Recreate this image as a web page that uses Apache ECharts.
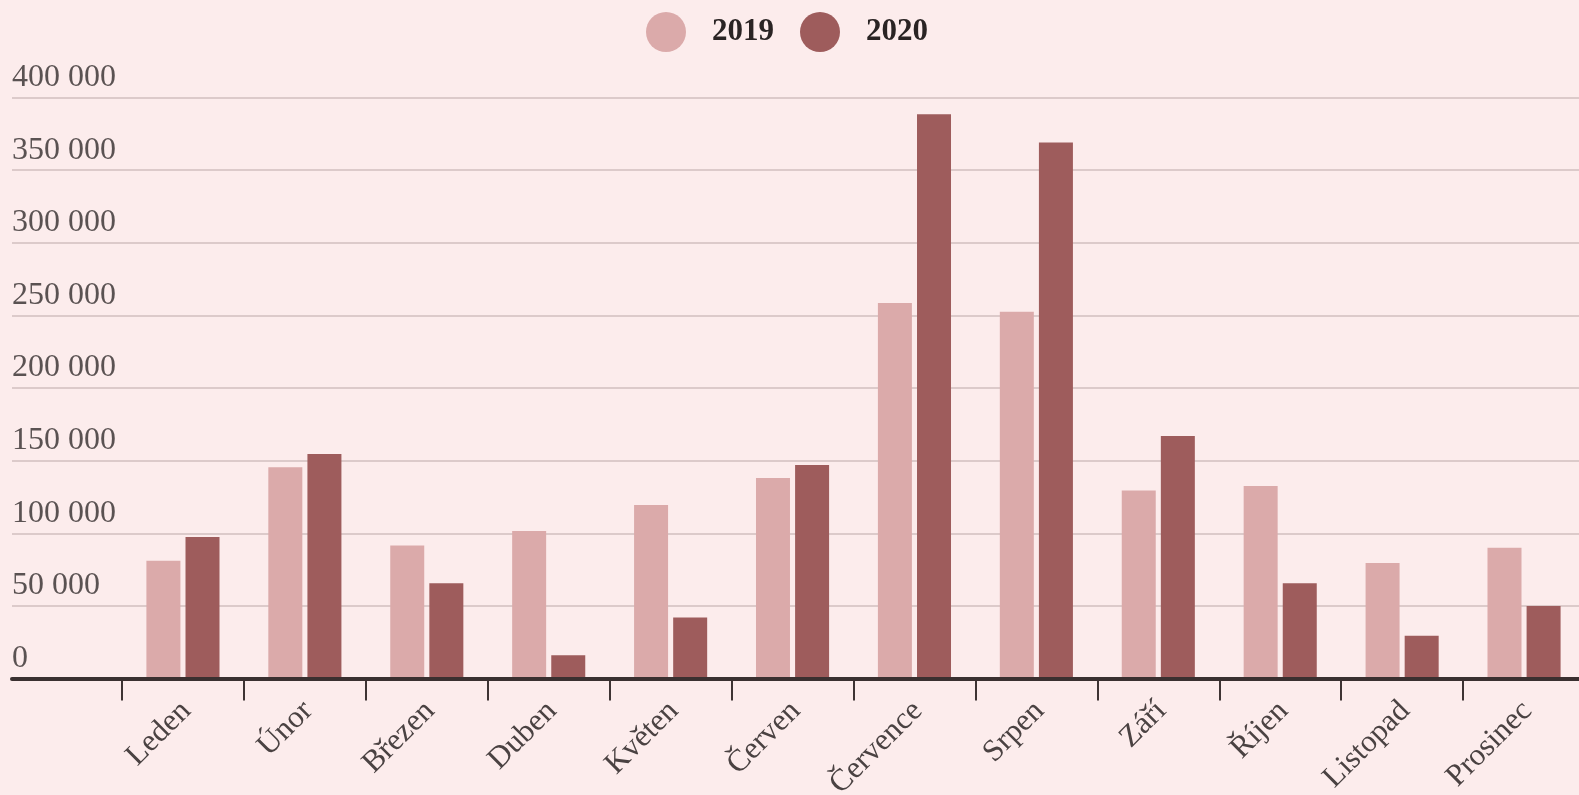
<!DOCTYPE html>
<html lang="cs">
<head>
<meta charset="utf-8">
<title>2019 / 2020</title>
<script src="https://cdn.jsdelivr.net/npm/echarts@6/dist/echarts.min.js"></script>
<style>
  html, body { margin: 0; padding: 0; background: #fcecec; }
  #chart { width: 1579px; height: 795px; }
</style>
</head>
<body>
<div id="chart"></div>
<script>
// Months on the category axis
const months = ['Leden', 'Únor', 'Březen', 'Duben', 'Květen', 'Červen',
  'Července', 'Srpen', 'Září', 'Říjen', 'Listopad', 'Prosinec'];

// Monthly values per year
const values2019 = [81000, 145500, 91500, 101500, 119500, 138000,
  258500, 252500, 129500, 132500, 79500, 90000];
const values2020 = [97500, 154500, 65500, 16000, 42000, 147000,
  388500, 369000, 167000, 65500, 29500, 50000];

// Value axis range and step
const yMin = 0;
const yMax = 400000;
const yStep = 50000;

const FONT = '"Liberation Serif", "Times New Roman", serif';

const fmt = v => String(v).replace(/\B(?=(\d{3})+(?!\d))/g, ' ');

const chart = echarts.init(document.getElementById('chart'), null, { renderer: 'canvas' });

chart.setOption({
  backgroundColor: '#fcecec',
  animation: false,
  textStyle: { fontFamily: FONT },
  legend: {
    data: ['2019', '2020'],
    icon: 'circle',
    left: 641,
    top: 7,
    itemWidth: 40,
    itemHeight: 40,
    itemGap: 26,
    textStyle: {
      fontFamily: FONT,
      fontSize: 31,
      fontWeight: 'bold',
      color: '#2a2424',
      padding: [0, 0, 0, 21]
    }
  },
  grid: [
    // plot area for the bars
    { left: 122, top: 97.5, width: 1463, height: 581, outerBoundsMode: 'none', containLabel: false },
    // full-width area for the horizontal rules, value labels and base line
    { left: 12, right: 0, top: 97.5, height: 581, outerBoundsMode: 'none', containLabel: false }
  ],
  xAxis: [
    {
      type: 'category',
      gridIndex: 0,
      data: months,
      axisLine: { show: false },
      axisTick: { show: true, length: 22, lineStyle: { color: '#3e3434', width: 2 } },
      axisLabel: {
        rotate: 45,
        margin: 9,
        verticalAlign: 'top',
        padding: [0, 11, 0, 0],
        fontFamily: FONT,
        fontSize: 31,
        color: '#4a4242'
      }
    },
    {
      type: 'category',
      gridIndex: 1,
      data: [''],
      axisLine: { show: true, lineStyle: { color: '#3a3030', width: 4 } },
      axisTick: { show: false },
      axisLabel: { show: false },
      z: 5
    }
  ],
  yAxis: [
    { type: 'value', gridIndex: 0, min: yMin, max: yMax, interval: yStep, show: false },
    {
      type: 'value',
      gridIndex: 1,
      min: yMin,
      max: yMax,
      interval: yStep,
      axisLine: { show: false },
      axisTick: { show: false },
      splitLine: { show: true, lineStyle: { color: '#dccaca', width: 2 } },
      axisLabel: {
        inside: true,
        margin: 0,
        align: 'left',
        verticalAlign: 'bottom',
        padding: [0, 0, 4, 0],
        fontFamily: FONT,
        fontSize: 32,
        color: '#5a5252',
        formatter: fmt
      }
    }
  ],
  series: [
    {
      name: '2019',
      type: 'bar',
      xAxisIndex: 0,
      yAxisIndex: 0,
      data: values2019,
      barWidth: 34,
      barGap: '15%',
      itemStyle: { color: '#dbaaaa' }
    },
    {
      name: '2020',
      type: 'bar',
      xAxisIndex: 0,
      yAxisIndex: 0,
      data: values2020,
      barWidth: 34,
      barGap: '15%',
      itemStyle: { color: '#9e5c5c' }
    }
  ]
});
</script>
</body>
</html>
